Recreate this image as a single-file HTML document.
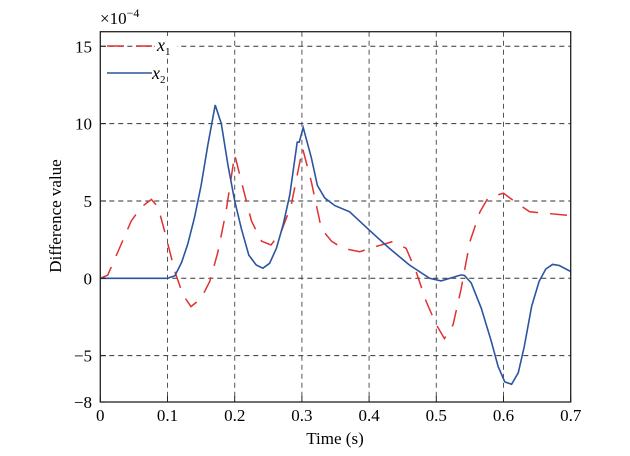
<!DOCTYPE html>
<html><head><meta charset="utf-8"><style>
body{margin:0;background:#fff;}
svg{display:block;font-family:"Liberation Serif",serif;}
</style></head><body>
<svg id="chart" width="630" height="456">
<g id="grid"></g>
<g id="series"></g>
<rect x="100.3" y="31.7" width="470.4" height="370.3" fill="none" stroke="#222" stroke-width="1.3"/>
<g id="ticks"></g>
<text x="100" y="24" font-size="17">×10<tspan dy="-7" font-size="12">−4</tspan></text>
<text x="335" y="444" font-size="17" text-anchor="middle">Time (s)</text>
<text x="0" y="0" font-size="17" text-anchor="middle" transform="translate(61,216) rotate(-90)">Difference value</text>
<g>
<line x1="107" y1="46" x2="152" y2="46" stroke="#e03030" stroke-width="1.5" stroke-dasharray="17,12"/>
<rect x="155" y="36" width="22" height="22" fill="#fff"/>
<text x="157" y="51" font-size="18" font-style="italic">x<tspan dy="4" font-size="11" font-style="normal">1</tspan></text>
<line x1="107" y1="73" x2="152" y2="73" stroke="#2b55a0" stroke-width="1.5"/>
<text x="152" y="79" font-size="18" font-style="italic">x<tspan dy="4" font-size="11" font-style="normal">2</tspan></text>
</g>
</svg>
<script>
const xTicks=[0,0.1,0.2,0.3,0.4,0.5,0.6,0.7];
const xTickLabels=["0","0.1","0.2","0.3","0.4","0.5","0.6","0.7"];
const yTicks=[15,10,5,0,-5,-8];
const yTickLabels=["15","10","5","0","−5","−8"];
const x1T=[0,0.011,0.026,0.046,0.061,0.076,0.086,0.096,0.111,0.123,0.135,0.15,0.163,0.175,0.187,0.2,0.21,0.225,0.24,0.254,0.269,0.284,0.294,0.301,0.314,0.329,0.344,0.361,0.386,0.41,0.435,0.455,0.47,0.485,0.5,0.512,0.525,0.537,0.55,0.565,0.577,0.6,0.617,0.639,0.7];
const x1V=[0,0.2,1.7,3.7,4.6,5.1,4.6,3.0,0.43,-1.08,-1.83,-1.3,-0.2,1.7,4.3,8.0,6.25,3.7,2.4,2.15,3.0,4.7,6.9,8.4,6.25,3.2,2.4,1.94,1.72,2.05,2.37,1.94,0.43,-1.5,-3.0,-3.9,-3.0,-0.65,2.37,4.3,5.2,5.5,4.95,4.3,4.05];
const x2T=[0,0.1,0.111,0.121,0.13,0.14,0.15,0.16,0.171,0.18,0.19,0.2,0.21,0.221,0.232,0.242,0.252,0.262,0.272,0.282,0.293,0.296,0.302,0.314,0.323,0.334,0.349,0.371,0.4,0.43,0.46,0.49,0.507,0.537,0.542,0.552,0.567,0.582,0.592,0.602,0.612,0.622,0.631,0.642,0.653,0.663,0.673,0.683,0.7];
const x2V=[0,0,0.17,1.03,2.2,3.9,6.0,8.6,11.2,10.0,7.3,5.0,3.2,1.5,0.86,0.65,0.97,1.94,3.45,5.4,8.8,8.8,9.74,7.8,6.0,5.2,4.7,4.3,3.13,1.94,0.86,0.0,-0.17,0.22,0.18,-0.3,-1.94,-4.1,-5.7,-6.7,-6.85,-6.1,-4.4,-1.8,-0.2,0.6,0.9,0.83,0.44];
const NS="http://www.w3.org/2000/svg";
const X0=100.3,X1=570.7,Y0=278.3,PPU=15.47;
function sx(t){return X0+(X1-X0)*t/0.7;}
function sy(v){return Y0-v*PPU;}
function mk(tag,attrs,parent){const e=document.createElementNS(NS,tag);for(const k in attrs)e.setAttribute(k,attrs[k]);parent.appendChild(e);return e;}
const grid=document.getElementById('grid'),ticks=document.getElementById('ticks'),series=document.getElementById('series');
xTicks.forEach((t,i)=>{
  const x=sx(t);
  if(i>0&&i<xTicks.length-1){
    const g=mk('line',{x1:x,y1:31.7,x2:x,y2:402,stroke:'#555','stroke-width':1,'stroke-dasharray':'5,4'},grid);
    
    
  }
  const tk=mk('line',{x1:x,y1:402,x2:x,y2:396,stroke:'#222'},ticks);
  
  
  const lb=mk('text',{x:x,y:421,'font-size':17,'text-anchor':'middle'},ticks);
  lb.textContent=xTickLabels[i];
  
  
});
yTicks.forEach((v,i)=>{
  const y=sy(v);
  if(v!==-8){
    const g=mk('line',{x1:100.3,y1:y,x2:570.7,y2:y,stroke:'#333','stroke-width':1,'stroke-dasharray':'5,4'},grid);
    
    
  }
  const tk=mk('line',{x1:100.3,y1:y,x2:106,y2:y,stroke:'#222'},ticks);
  
  
  const lb=mk('text',{x:92,y:y+6,'font-size':17,'text-anchor':'end'},ticks);
  lb.textContent=yTickLabels[i];
  
  
});
function pts(T,V){return T.map((t,i)=>sx(t).toFixed(1)+','+sy(V[i]).toFixed(1)).join(' ');}
const l1=mk('polyline',{points:pts(x1T,x1V),fill:'none',stroke:'#e03030','stroke-width':1.5,'stroke-dasharray':'17,12'},series);


const l2=mk('polyline',{points:pts(x2T,x2V),fill:'none',stroke:'#2b55a0','stroke-width':1.6},series);


</script>
</body></html>
